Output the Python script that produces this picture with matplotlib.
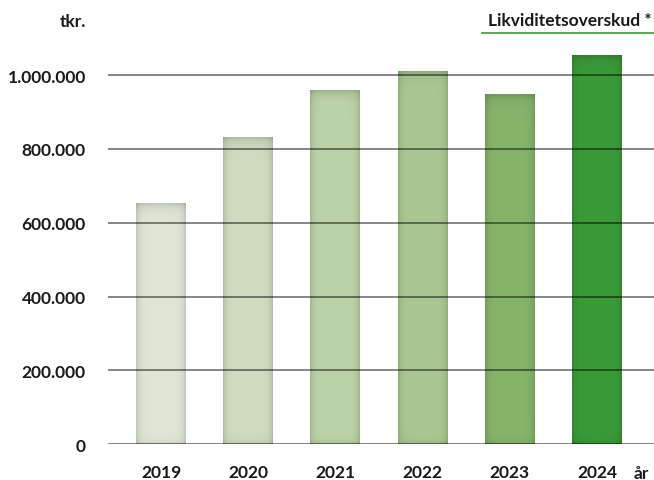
import numpy as np
import matplotlib.pyplot as plt
from matplotlib.colors import to_rgb

plt.rcParams["font.family"] = ["Lato", "DejaVu Sans"]
plt.rcParams["font.weight"] = "bold"

years = ["2019", "2020", "2021", "2022", "2023", "2024"]
values = [650000, 829000, 957000, 1008000, 946000, 1051000]
bar_colors = ["#dfe6d6", "#cfdcc0", "#bcd2a8", "#aac893", "#86b46b", "#3a9a38"]
yticks = [0, 200000, 400000, 600000, 800000, 1000000]
ytick_labels = ["0", "200.000", "400.000", "600.000", "800.000", "1.000.000"]

fig = plt.figure(figsize=(6.54, 4.81), dpi=100)
ax = fig.add_axes([0.1644, 0.0742, 0.8356, 0.8445])

x = np.arange(len(years))
width = 0.573

# bars with a little bevel shading
nx, ny = 60, 200
u = np.linspace(0, 1, nx)
edge = np.minimum(u, 1 - u)
hprof = 1 - 0.14 * np.exp(-edge / 0.06)
for xi, v, c in zip(x, values, bar_colors):
    rgb = np.array(to_rgb(c))
    yy = np.linspace(v, 0, ny)
    top = 1 - 0.14 * np.exp(-(v - yy) / 12000)
    bot = 1 - 0.08 * np.exp(-yy / 8000)
    shade = np.outer(top * bot, hprof)
    img = np.clip(shade[..., None] * rgb[None, None, :], 0, 1)
    ax.imshow(img, extent=(xi - width / 2, xi + width / 2, 0, v),
              aspect="auto", interpolation="bilinear", zorder=2)

for t in yticks:
    ax.axhline(t, color="black", alpha=0.55, lw=1.2, zorder=3)

ax.set_xlim(-0.614, 5.654)
ax.set_ylim(0, 1100000)
ax.set_yticks(yticks)
ax.set_yticklabels(ytick_labels)
ax.set_xticks(x)
ax.set_xticklabels(years)
ax.tick_params(axis="y", length=0, pad=15.5, labelsize=12.5, colors="#1a1a1a")
ax.tick_params(axis="x", length=0, pad=14, labelsize=12.5, colors="#1a1a1a")
for s in ax.spines.values():
    s.set_visible(False)

fig.text(86 / 654, 1 - 22 / 481, "tkr.", ha="right", va="center",
         fontsize=12.5, fontweight="bold", color="#1a1a1a")
fig.text(652 / 654, 1 - 21 / 481, "Likviditetsoverskud *", ha="right", va="center",
         fontsize=12.5, fontweight="bold", color="#1a1a1a")
fig.add_artist(plt.Line2D([482 / 654, 1.0], [1 - 33.5 / 481, 1 - 33.5 / 481],
                          color="#3a9a38", lw=1.2))
fig.text(649 / 654, 1 - 474 / 481, "år", ha="right", va="center",
         fontsize=12.5, fontweight="bold", color="#1a1a1a")

fig.savefig("out.png", dpi=100)
